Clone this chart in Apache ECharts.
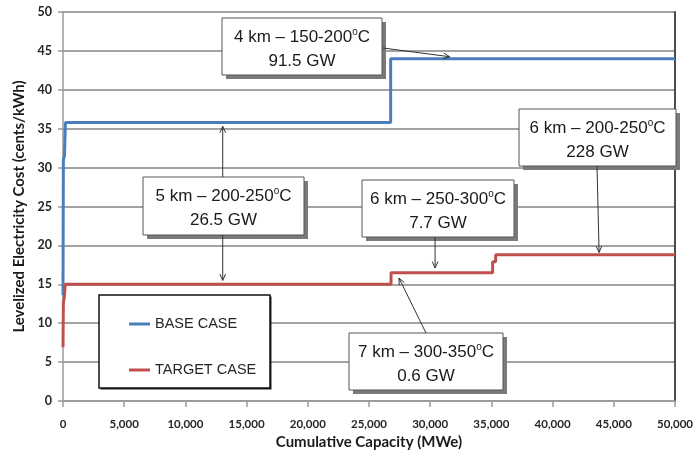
<!DOCTYPE html>
<html><head><meta charset="utf-8">
<script src="https://cdn.jsdelivr.net/npm/echarts@6/dist/echarts.min.js"></script>
<style>html,body{margin:0;padding:0;background:#fff}#c{width:696px;height:464px}</style>
</head><body><div id="c"></div>
<script>
// ---- data ----
const seriesNames = ['BASE CASE', 'TARGET CASE'];
const baseCapacity = [0, 30, 120, 200, 26770, 26770, 50000];
const baseCost     = [13.6, 31.0, 31.5, 35.8, 35.8, 44.0, 44.0];
const targetCapacity = [0, 30, 110, 180, 26800, 26800, 35100, 35100, 35350, 35350, 50000];
const targetCost     = [6.9, 12.6, 13.4, 15.0, 15.0, 16.5, 16.5, 17.9, 17.9, 18.8, 18.8];
const xTickValues = [0, 5000, 10000, 15000, 20000, 25000, 30000, 35000, 40000, 45000, 50000];
const yTickValues = [0, 5, 10, 15, 20, 25, 30, 35, 40, 45, 50];
const annDepthTemp = ['4 km – 150-200', '5 km – 200-250', '6 km – 250-300', '6 km – 200-250', '7 km – 300-350'];
const annCapacity  = ['91.5 GW', '26.5 GW', '7.7 GW', '228 GW', '0.6 GW'];
// arrow tips in data coordinates
const annTargets = [
  [[31600, 44.25]],
  [[13050, 35.3], [13050, 15.5]],
  [[30400, 17.1]],
  [[43800, 19.1]],
  [[27450, 15.8]]
];

// ---- layout (pixels) ----
const annBoxes = [[222, 18, 160, 57], [143, 177, 161, 58], [362, 180, 152, 57], [519, 109, 157, 57], [349, 333, 154, 57]];
const annStarts = [[[383, 48]], [[null, 177], [null, 235]], [[null, 237]], [[597, 166]], [[426, 333]]];

const toPairs = (xs, ys) => xs.map((x, i) => [x, ys[i]]);
const chart = echarts.init(document.getElementById('c'), null, {renderer: 'canvas'});
const labelFont = {fontFamily: 'Lato', fontWeight: 'bold', color: '#262626'};

chart.setOption({
  animation: false,
  backgroundColor: '#fff',
  grid: {left: 63, right: 16, top: 12, bottom: 63},
  legend: {
    orient: 'vertical', left: 124, top: 311, itemGap: 30, itemWidth: 21, itemHeight: 3,
    icon: 'rect', z: 20,
    data: seriesNames,
    textStyle: {fontFamily: 'Liberation Sans', fontSize: 14.5, color: '#262626', lineHeight: 16}
  },
  xAxis: {
    type: 'value', min: 0, max: 50000, interval: 5000,
    name: 'Cumulative Capacity (MWe)', nameLocation: 'middle', nameGap: 34,
    nameTextStyle: {fontFamily: 'Lato', fontWeight: 'bold', fontSize: 15, color: '#1a1a1a'},
    axisLine: {show: true, lineStyle: {color: '#9a9a9a', width: 1.5}},
    axisTick: {show: true, length: 6, lineStyle: {color: '#9a9a9a', width: 1.5}},
    splitLine: {show: false},
    axisLabel: Object.assign({fontSize: 11.5, margin: 17,
      formatter: v => xTickValues.includes(v) ? v.toLocaleString('en-US') : ''}, labelFont)
  },
  yAxis: [{
    type: 'value', min: 0, max: 50, interval: 5,
    name: 'Levelized Electricity Cost (cents/kWh)', nameLocation: 'middle', nameGap: 33,
    nameTextStyle: {fontFamily: 'Lato', fontWeight: 'bold', fontSize: 15, color: '#1a1a1a'},
    axisLine: {show: true, lineStyle: {color: '#9a9a9a', width: 1.5}},
    axisTick: {show: true, length: 5, lineStyle: {color: '#9a9a9a', width: 1.5}},
    splitLine: {show: true, lineStyle: {color: '#a3a3a3', width: 2}},
    axisLabel: Object.assign({fontSize: 12.5, margin: 11,
      formatter: v => yTickValues.includes(v) ? String(v) : ''}, labelFont)
  }, {
    type: 'value', min: 0, max: 50, interval: 5, position: 'right',
    axisLine: {show: true, lineStyle: {color: '#4d4d4d', width: 2}},
    axisTick: {show: false}, axisLabel: {show: false}, splitLine: {show: false}
  }],
  series: [{
    name: seriesNames[0], type: 'line', showSymbol: false, symbol: 'none',
    data: toPairs(baseCapacity, baseCost),
    lineStyle: {color: '#4a7ebb', width: 3}, itemStyle: {color: '#4a7ebb'}
  }, {
    name: seriesNames[1], type: 'line', showSymbol: false, symbol: 'none',
    data: toPairs(targetCapacity, targetCost),
    lineStyle: {color: '#c0504d', width: 3}, itemStyle: {color: '#c0504d'}
  }]
});

function arrow(sx, sy, tx, ty) {
  const ang = Math.atan2(ty - sy, tx - sx);
  const L = 7, a = 0.42;
  const p1 = [tx - L * Math.cos(ang - a), ty - L * Math.sin(ang - a)];
  const p2 = [tx - L * Math.cos(ang + a), ty - L * Math.sin(ang + a)];
  const st = {stroke: '#333', lineWidth: 1};
  return [
    {type: 'line', z: 6, shape: {x1: sx, y1: sy, x2: tx, y2: ty}, style: st},
    {type: 'polyline', z: 6, shape: {points: [p1, [tx, ty], p2]}, style: {stroke: '#333', lineWidth: 1, fill: null}}
  ];
}

const g = [];
// legend box
g.push({type: 'rect', z: 3, shape: {x: 100.5, y: 296.5, width: 171, height: 93}, style: {fill: '#222'}});
g.push({type: 'rect', z: 3, shape: {x: 99, y: 295, width: 171, height: 93}, style: {fill: '#fff', stroke: '#111', lineWidth: 1.5}});

annBoxes.forEach((b, i) => {
  const [x, y, w, h] = b;
  g.push({type: 'rect', z: 5, shape: {x: x + 4, y: y + 4, width: w, height: h}, style: {fill: '#7a7a7a'}});
  g.push({type: 'rect', z: 5, shape: {x: x, y: y, width: w, height: h}, style: {fill: '#fff', stroke: '#555', lineWidth: 1}});
  g.push({type: 'text', z: 7, style: {
    x: x + w / 2, y: y + 19, align: 'center', verticalAlign: 'middle',
    text: annDepthTemp[i] + '{s|o}C', fontFamily: 'Liberation Sans', fontSize: 17, fill: '#1a1a1a',
    rich: {s: {fontSize: 10, fontFamily: 'Liberation Sans', fill: '#1a1a1a', padding: [0, 0, 9, 0]}}
  }});
  g.push({type: 'text', z: 7, style: {
    x: x + w / 2, y: y + 43.5, align: 'center', verticalAlign: 'middle',
    text: annCapacity[i], fontFamily: 'Liberation Sans', fontSize: 17, fill: '#1a1a1a'
  }});
  annTargets[i].forEach((t, j) => {
    const p = chart.convertToPixel({gridIndex: 0}, t);
    const s = annStarts[i][j];
    const sx = s[0] === null ? p[0] : s[0];
    arrow(sx, s[1], p[0], p[1]).forEach(e => g.push(e));
  });
});

chart.setOption({graphic: {elements: g}});
</script>
</body></html>
